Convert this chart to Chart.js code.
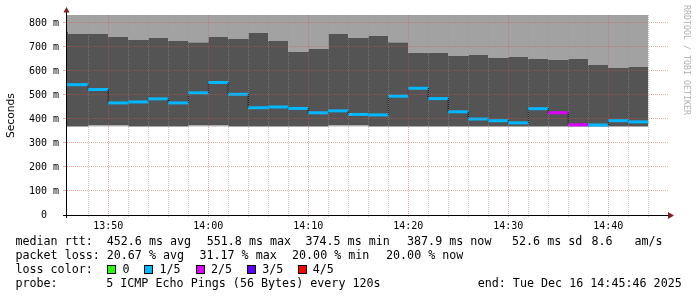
<!DOCTYPE html>
<html>
<head>
<meta charset="utf-8">
<script src="https://cdn.jsdelivr.net/npm/chart.js@4.4.0/dist/chart.umd.min.js"></script>
<style>
  html, body { margin: 0; padding: 0; background: #fff; }
  #wrap { position: relative; width: 697px; height: 297px; overflow: hidden; background: #fff; }
  #wrap canvas { position: absolute; left: 0; top: 0; }
  .txt { position: absolute; font-family: 'DejaVu Sans Mono', monospace; font-size: 11.7px; line-height: 14px; white-space: pre; color: #000; }
  .box { position: absolute; width: 7px; height: 7px; border: 1px solid #000; top: 265px; }
  .vlabel { position: absolute; white-space: pre; transform-origin: 0 0; }
</style>
</head>
<body>
<div id="wrap">
  <canvas id="chart" width="697" height="297"></canvas>

  <div class="vlabel" style="left:5.3px; top:137.5px; transform:rotate(-90deg); font-family:'DejaVu Sans',sans-serif; font-size:10.7px; line-height:12px; color:#000;">Seconds</div>
  <div class="vlabel" style="left:692px; top:5px; transform:rotate(90deg); font-family:'DejaVu Sans Mono',monospace; font-size:8.3px; line-height:10px; color:#b0b0b0;">RRDTOOL / TOBI OETIKER</div>

  <div class="txt" style="left:15.4px; top:234px;">median rtt:</div>
  <div class="txt" style="left:106.7px; top:234px;">452.6 ms avg</div>
  <div class="txt" style="left:206.7px; top:234px;">551.8 ms max</div>
  <div class="txt" style="left:305.4px; top:234px;">374.5 ms min</div>
  <div class="txt" style="left:407px; top:234px;">387.9 ms now</div>
  <div class="txt" style="left:512px; top:234px;">52.6 ms sd</div>
  <div class="txt" style="left:591.5px; top:234px;">8.6</div>
  <div class="txt" style="left:634.4px; top:234px;">am/s</div>

  <div class="txt" style="left:15.4px; top:248px;">packet loss:</div>
  <div class="txt" style="left:106.7px; top:248px;">20.67 % avg</div>
  <div class="txt" style="left:199.4px; top:248px;">31.17 % max</div>
  <div class="txt" style="left:292px; top:248px;">20.00 % min</div>
  <div class="txt" style="left:386px; top:248px;">20.00 % now</div>

  <div class="txt" style="left:15.4px; top:262px;">loss color:</div>
  <div id="lossLegend"></div>

  <div class="txt" style="left:15.4px; top:276px;">probe:</div>
  <div class="txt" style="left:106.2px; top:276px;">5 ICMP Echo Pings (56 Bytes) every 120s</div>
  <div class="txt" style="left:477.7px; top:276px;">end: Tue Dec 16 14:45:46 2025</div>
</div>

<script>
// 2 minute samples (start time of each step)
const sampleTimes = ['13:44', '13:46', '13:48', '13:50', '13:52', '13:54', '13:56', '13:58', '14:00', '14:02',
                     '14:04', '14:06', '14:08', '14:10', '14:12', '14:14', '14:16', '14:18', '14:20', '14:22',
                     '14:24', '14:26', '14:28', '14:30', '14:32', '14:34', '14:36', '14:38', '14:40', '14:42'];
const sampleEnd = '14:44';

// median rtt in ms
const medianRtt = [543, 543, 523, 467, 471, 484, 467, 509, 552, 503,
                   447, 450, 444, 426, 434, 419, 417, 495, 528, 485,
                   430, 400, 393, 384, 443, 426, 376, 375, 393, 388];
// lost pings out of 5
const lostPings = [1, 1, 1, 1, 1, 1, 1, 1, 1, 1,
                   1, 1, 1, 1, 1, 1, 1, 1, 1, 1,
                   1, 1, 1, 1, 1, 2, 2, 1, 1, 1];
// smoke: upper edge of dark band, lower edge of dark band, lowest ping
const smokeTop = [766, 754, 754, 742, 729, 737, 725, 720, 742, 733,
                  758, 725, 679, 692, 754, 737, 746, 720, 675, 675,
                  663, 667, 654, 658, 650, 646, 650, 625, 613, 617];
const smokeLow = [369, 369, 374, 374, 369, 369, 369, 374, 374, 369,
                  369, 369, 369, 369, 374, 374, 369, 369, 369, 369,
                  369, 369, 369, 369, 369, 369, 369, 369, 369, 369];
const pingLow  = [369, 369, 369, 369, 369, 369, 369, 369, 369, 369,
                  369, 369, 369, 369, 369, 369, 369, 369, 369, 369,
                  369, 369, 369, 369, 369, 369, 369, 369, 369, 369];

const yTickValues = [0, 100, 200, 300, 400, 500, 600, 700, 800];
const yTickLabels = ['0  ', '100 m', '200 m', '300 m', '400 m', '500 m', '600 m', '700 m', '800 m'];
const xTickLabels = ['13:50', '14:00', '14:10', '14:20', '14:30', '14:40'];

const lossLabels = ['0', '1/5', '2/5', '3/5', '4/5'];
const lossColors = ['#26ff00', '#00b8ff', '#dd00ff', '#5e00ff', '#ff0000'];

const DARK = '#545454';
const LIGHT = '#a2a2a2';
const LOWLIGHT = '#b8b8b8';
const MINOR = 'rgba(150,150,150,0.5)';
const MAJOR = 'rgba(222,79,79,0.5)';

// loss colour legend
const boxLeft = [107, 144, 196, 247, 298];
const labelLeft = [122.4, 159.4, 211, 262.2, 312.7];
const lossLegend = document.getElementById('lossLegend');
lossLabels.forEach((lbl, i) => {
    const b = document.createElement('div');
    b.className = 'box';
    b.style.left = boxLeft[i] + 'px';
    b.style.background = lossColors[i];
    lossLegend.appendChild(b);
    const t = document.createElement('div');
    t.className = 'txt';
    t.style.left = labelLeft[i] + 'px';
    t.style.top = '262px';
    t.innerText = lbl;
    lossLegend.appendChild(t);
});

const toMin = t => { const [h, m] = t.split(':').map(Number); return h * 60 + m; };
const starts = sampleTimes.map(toMin);
const ends = starts.slice(1).concat(toMin(sampleEnd));
const fmtMin = v => String(Math.floor(v / 60)).padStart(2, '0') + ':' + String(v % 60).padStart(2, '0');

function stepSeries(values) {
    const pts = starts.map((x, i) => ({ x: x, y: values[i] }));
    pts.push({ x: ends[ends.length - 1], y: values[values.length - 1] });
    return pts;
}
const medianPoints = [];
medianRtt.forEach((v, i) => {
    medianPoints.push({ x: starts[i], y: v });
    medianPoints.push({ x: ends[i], y: v });
});

// graph window: 13:45:52 .. 14:45:58
const xMin = toMin('13:45') + 52 / 60;
const xMax = xMin + 60.1;
const yMax = 833.33;

const gridMinutes = [];
for (let m = toMin('13:48'); m <= toMin('14:44'); m += 2) gridMinutes.push(m);
const isMajorX = v => xTickLabels.includes(fmtMin(v));

const axisArrows = {
    id: 'axisArrows',
    afterDraw(chart) {
        const { ctx, chartArea: a } = chart;
        ctx.save();
        ctx.strokeStyle = '#000';
        ctx.lineWidth = 1;
        ctx.beginPath();
        ctx.moveTo(a.left - 4, a.bottom + 0.5);
        ctx.lineTo(a.right + 1, a.bottom + 0.5);
        ctx.moveTo(a.left - 0.5, a.bottom + 3);
        ctx.lineTo(a.left - 0.5, a.top - 3);
        ctx.stroke();
        ctx.fillStyle = '#7f1f1f';
        ctx.beginPath();
        ctx.moveTo(a.right, a.bottom - 3);
        ctx.lineTo(a.right + 6, a.bottom + 0.5);
        ctx.lineTo(a.right, a.bottom + 4);
        ctx.closePath();
        ctx.fill();
        ctx.beginPath();
        ctx.moveTo(a.left - 3.5, a.top - 2.5);
        ctx.lineTo(a.left - 0.5, a.top - 8);
        ctx.lineTo(a.left + 2.5, a.top - 2.5);
        ctx.closePath();
        ctx.fill();
        ctx.restore();
    }
};

Chart.defaults.font.family = "'DejaVu Sans Mono', monospace";

new Chart(document.getElementById('chart'), {
    type: 'line',
    data: {
        datasets: [
            {
                label: 'median rtt',
                data: medianPoints,
                borderWidth: 3,
                borderCapStyle: 'butt',
                borderColor: lossColors[1],
                fill: false,
                clip: 0,
                segment: {
                    borderColor: c => c.p0DataIndex % 2 === 0 ? lossColors[lostPings[c.p0DataIndex / 2]] : '#1a1a1a',
                    borderWidth: c => c.p0DataIndex % 2 === 0 ? 3 : 1,
                    borderDash: c => c.p0DataIndex % 2 === 0 ? [] : [1, 1]
                }
            },
            {
                label: 'smoke upper',
                data: stepSeries(smokeTop),
                stepped: true, borderWidth: 0, borderColor: 'rgba(0,0,0,0)',
                fill: 'end', backgroundColor: LIGHT, clip: 0
            },
            {
                label: 'smoke',
                data: stepSeries(smokeTop),
                stepped: true, borderWidth: 0, borderColor: 'rgba(0,0,0,0)',
                fill: '+1', backgroundColor: DARK, clip: 0
            },
            {
                label: 'smoke lower',
                data: stepSeries(smokeLow),
                stepped: true, borderWidth: 0, borderColor: 'rgba(0,0,0,0)',
                fill: '+1', backgroundColor: LOWLIGHT, clip: 0
            },
            {
                label: 'lowest ping',
                data: stepSeries(pingLow),
                stepped: true, borderWidth: 0, borderColor: 'rgba(0,0,0,0)',
                fill: false, clip: 0
            }
        ]
    },
    options: {
        responsive: false,
        animation: false,
        devicePixelRatio: 1,
        layout: { padding: { left: 0, right: 29, top: 15, bottom: 0 } },
        elements: { point: { radius: 0 } },
        plugins: { legend: { display: false }, tooltip: { enabled: false } },
        scales: {
            x: {
                type: 'linear',
                min: xMin,
                max: xMax,
                afterFit: s => { s.height = 82; },
                afterBuildTicks: s => { s.ticks = gridMinutes.map(v => ({ value: v })); },
                grid: {
                    z: 1,
                    color: c => isMajorX(c.tick.value) ? MAJOR : MINOR,
                    tickLength: 2
                },
                border: { display: false, dash: [1, 1] },
                ticks: {
                    autoSkip: false, maxRotation: 0, padding: 3, color: '#000',
                    font: { size: 10 },
                    callback: v => isMajorX(v) ? fmtMin(v) : ''
                }
            },
            y: {
                min: 0,
                max: yMax,
                afterFit: s => { s.width = 67; },
                afterBuildTicks: s => {
                    const t = [];
                    for (let v = 0; v <= 800; v += 50) t.push({ value: v });
                    s.ticks = t;
                },
                grid: {
                    z: 1,
                    color: c => c.tick.value % 100 === 0 ? MAJOR : MINOR,
                    tickColor: c => c.tick.value % 100 === 0 ? MAJOR : 'rgba(0,0,0,0)',
                    tickLength: 4
                },
                border: { display: false, dash: [1, 1] },
                ticks: {
                    padding: 4, color: '#000',
                    font: { size: 10 },
                    callback: v => {
                        const i = yTickValues.indexOf(v);
                        return i >= 0 ? yTickLabels[i] : '';
                    }
                }
            }
        }
    },
    plugins: [axisArrows]
});
</script>
</body>
</html>
